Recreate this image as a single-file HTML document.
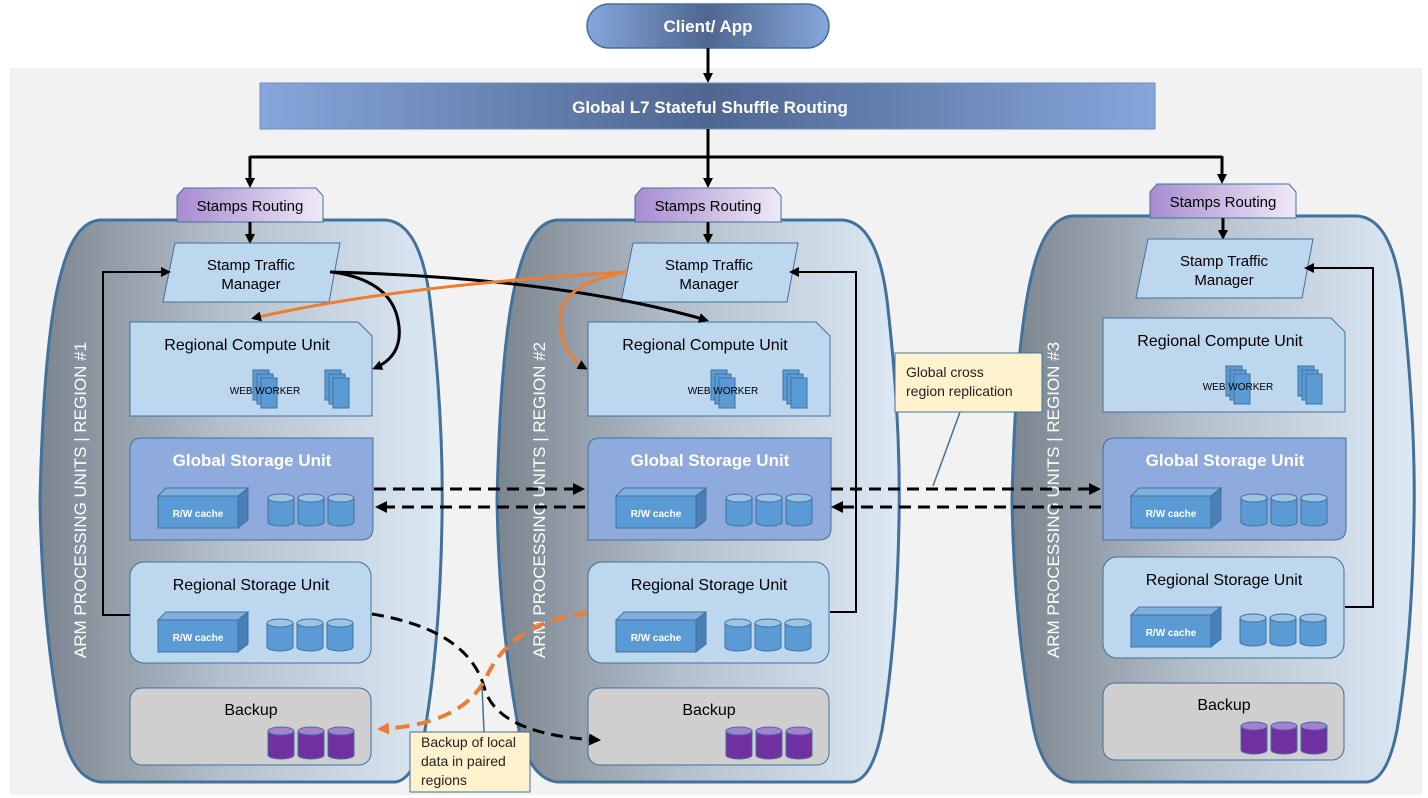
<!DOCTYPE html>
<html><head><meta charset="utf-8"><style>
html,body{margin:0;padding:0;background:#fff;}
svg{display:block;font-family:"Segoe UI","Liberation Sans",sans-serif;}
</style></head><body>
<svg width="1428" height="798" viewBox="0 0 1428 798" xmlns="http://www.w3.org/2000/svg">
<defs>
<linearGradient id="reg" x1="0" x2="1" y1="0" y2="0">
<stop offset="0" stop-color="#7b858f"/><stop offset="0.45" stop-color="#b3bfcb"/><stop offset="1" stop-color="#dce8f4"/></linearGradient>
<linearGradient id="bar" x1="0" x2="1"><stop offset="0" stop-color="#86a6da"/><stop offset="0.5" stop-color="#4f6690"/><stop offset="1" stop-color="#86a6da"/></linearGradient>
<linearGradient id="pur" x1="0" x2="1"><stop offset="0" stop-color="#a78bd0"/><stop offset="1" stop-color="#efeaf6"/></linearGradient>
<marker id="ab" markerWidth="10" markerHeight="10" refX="7" refY="5" orient="auto" markerUnits="userSpaceOnUse"><path d="M0,0 L10,5 L0,10 Z" fill="#000"/></marker>
<marker id="ao" markerWidth="12" markerHeight="12" refX="9" refY="6" orient="auto" markerUnits="userSpaceOnUse"><path d="M0,0 L12,6 L0,12 Z" fill="#ed7d31"/></marker>
<marker id="ab2" markerWidth="12" markerHeight="12" refX="9" refY="6" orient="auto" markerUnits="userSpaceOnUse"><path d="M0,0 L12,6 L0,12 Z" fill="#000"/></marker>
</defs>
<rect x="10" y="68" width="1412" height="727" fill="#f2f2f2"/>

<rect x="587" y="4" width="242" height="44" rx="22" fill="url(#bar)" stroke="#41719c" stroke-width="1.5"/>
<text x="708" y="32" font-size="17" font-weight="bold" fill="#fff" text-anchor="middle">Client/ App</text>
<line x1="708" y1="48" x2="708" y2="80" stroke="#000" stroke-width="3" marker-end="url(#ab)"/>
<rect x="260" y="83" width="895" height="46" fill="url(#bar)" stroke="#6d8fc7" stroke-width="1"/>
<text x="710" y="113" font-size="17" font-weight="bold" fill="#fff" text-anchor="middle">Global L7 Stateful Shuffle Routing</text>
<path d="M708,129 V157 M250,157 H1222" stroke="#000" stroke-width="3" fill="none"/>
<line x1="250" y1="156" x2="250" y2="185" stroke="#000" stroke-width="3" marker-end="url(#ab)"/>
<line x1="708" y1="156" x2="708" y2="185" stroke="#000" stroke-width="3" marker-end="url(#ab)"/>
<line x1="1222" y1="156" x2="1222" y2="181" stroke="#000" stroke-width="3" marker-end="url(#ab)"/>

<path d="M100,220 L385,220 Q420,222 430,300 Q444,420 442,520 Q440,640 425,730 Q415,780 395,782 L100,782 Q70,778 60,720 Q42,620 40,500 Q44,330 62,270 Q75,222 100,220 Z" fill="url(#reg)" stroke="#41719c" stroke-width="3"/>
<path d="M557,220 L842,220 Q877,222 887,300 Q901,420 899,520 Q897,640 882,730 Q872,780 852,782 L557,782 Q527,778 517,720 Q499,620 497,500 Q501,330 519,270 Q532,222 557,220 Z" fill="url(#reg)" stroke="#41719c" stroke-width="3"/>
<path d="M1072,216 L1357,216 Q1392,218 1402,296 Q1416,420 1414,520 Q1412,640 1397,730 Q1387,780 1367,782 L1072,782 Q1042,778 1032,720 Q1014,620 1012,500 Q1016,330 1034,266 Q1047,218 1072,216 Z" fill="url(#reg)" stroke="#41719c" stroke-width="3"/>

<text transform="translate(86,500) rotate(-90)" font-size="17" fill="#fff" text-anchor="middle">ARM PROCESSING UNITS | REGION #1</text>
<text transform="translate(545,500) rotate(-90)" font-size="17" fill="#fff" text-anchor="middle">ARM PROCESSING UNITS | REGION #2</text>
<text transform="translate(1059,500) rotate(-90)" font-size="17" fill="#fff" text-anchor="middle">ARM PROCESSING UNITS | REGION #3</text>

<g>
<path d="M177,196 L184,188 L316,188 L323,196 L323,222 L177,222 Z" fill="url(#pur)" stroke="#41719c"/>
<text x="250" y="211" font-size="15" text-anchor="middle">Stamps Routing</text>
<line x1="250" y1="222" x2="250" y2="241" stroke="#000" stroke-width="3" marker-end="url(#ab)"/>
<polygon points="175,243 340,243 329,302 163,302" fill="#bdd7ee" stroke="#41719c"/>
<text x="251" y="270" font-size="15" text-anchor="middle">Stamp Traffic</text>
<text x="251" y="289" font-size="15" text-anchor="middle">Manager</text>
<path d="M130,322 L358,322 L372,336 L372,416 L130,416 Z" fill="#bdd7ee" stroke="#41719c"/>
<text x="247" y="350" font-size="16" text-anchor="middle">Regional Compute Unit</text>
<g fill="#5b9bd5" stroke="#41719c"><rect x="253" y="370" width="16" height="30"/><rect x="257" y="374" width="16" height="30"/><rect x="261" y="378" width="16" height="30"/>
<rect x="325" y="370" width="16" height="30"/><rect x="329" y="374" width="16" height="30"/><rect x="333" y="378" width="16" height="30"/></g>
<text x="265" y="394" font-size="10" text-anchor="middle">WEB WORKER</text>
<path d="M142,438 L373,438 L373,528 Q373,540 361,540 L130,540 L130,450 Q130,438 142,438 Z" fill="#8faadc" stroke="#41719c"/>
<text x="252" y="466" font-size="17" font-weight="bold" fill="#fff" text-anchor="middle">Global Storage Unit</text>
<g stroke="#41719c"><polygon points="158,496 166,488 248,488 238,496" fill="#7fb0e0"/><polygon points="238,496 248,488 248,520 238,528" fill="#4a7fb8"/><rect x="158" y="496" width="80" height="32" fill="#5b9bd5"/></g>
<text x="198" y="517" font-size="10" font-weight="bold" fill="#fff" text-anchor="middle">R/W cache</text>
<g stroke="#41719c"><path d="M268,498 v24 a13,4 0 0 0 26,0 v-24 Z" fill="#5b9bd5"/><ellipse cx="281" cy="498" rx="13" ry="4" fill="#9dc3e6"/>
<path d="M298,498 v24 a13,4 0 0 0 26,0 v-24 Z" fill="#5b9bd5"/><ellipse cx="311" cy="498" rx="13" ry="4" fill="#9dc3e6"/>
<path d="M328,498 v24 a13,4 0 0 0 26,0 v-24 Z" fill="#5b9bd5"/><ellipse cx="341" cy="498" rx="13" ry="4" fill="#9dc3e6"/></g>
<rect x="130" y="562" width="241" height="101" rx="14" fill="#bdd7ee" stroke="#41719c"/>
<text x="251" y="590" font-size="16" text-anchor="middle">Regional Storage Unit</text>
<g stroke="#41719c"><polygon points="158,620 166,612 248,612 238,620" fill="#7fb0e0"/><polygon points="238,620 248,612 248,644 238,652" fill="#4a7fb8"/><rect x="158" y="620" width="80" height="32" fill="#5b9bd5"/></g>
<text x="198" y="641" font-size="10" font-weight="bold" fill="#fff" text-anchor="middle">R/W cache</text>
<g stroke="#41719c"><path d="M267,623 v24 a13,4 0 0 0 26,0 v-24 Z" fill="#5b9bd5"/><ellipse cx="280" cy="623" rx="13" ry="4" fill="#9dc3e6"/>
<path d="M297,623 v24 a13,4 0 0 0 26,0 v-24 Z" fill="#5b9bd5"/><ellipse cx="310" cy="623" rx="13" ry="4" fill="#9dc3e6"/>
<path d="M327,623 v24 a13,4 0 0 0 26,0 v-24 Z" fill="#5b9bd5"/><ellipse cx="340" cy="623" rx="13" ry="4" fill="#9dc3e6"/></g>
<rect x="130" y="688" width="241" height="77" rx="12" fill="#d0cece" stroke="#41719c"/>
<text x="251" y="715" font-size="16" text-anchor="middle">Backup</text>
<g stroke="#41719c"><path d="M268,731 v24 a13,4 0 0 0 26,0 v-24 Z" fill="#7030a0"/><ellipse cx="281" cy="731" rx="13" ry="4" fill="#a77fd0"/>
<path d="M298,731 v24 a13,4 0 0 0 26,0 v-24 Z" fill="#7030a0"/><ellipse cx="311" cy="731" rx="13" ry="4" fill="#a77fd0"/>
<path d="M328,731 v24 a13,4 0 0 0 26,0 v-24 Z" fill="#7030a0"/><ellipse cx="341" cy="731" rx="13" ry="4" fill="#a77fd0"/></g>
</g>

<g transform="translate(458,0)">
<path d="M177,196 L184,188 L316,188 L323,196 L323,222 L177,222 Z" fill="url(#pur)" stroke="#41719c"/>
<text x="250" y="211" font-size="15" text-anchor="middle">Stamps Routing</text>
<line x1="250" y1="222" x2="250" y2="241" stroke="#000" stroke-width="3" marker-end="url(#ab)"/>
<polygon points="175,243 340,243 329,302 163,302" fill="#bdd7ee" stroke="#41719c"/>
<text x="251" y="270" font-size="15" text-anchor="middle">Stamp Traffic</text>
<text x="251" y="289" font-size="15" text-anchor="middle">Manager</text>
<path d="M130,322 L358,322 L372,336 L372,416 L130,416 Z" fill="#bdd7ee" stroke="#41719c"/>
<text x="247" y="350" font-size="16" text-anchor="middle">Regional Compute Unit</text>
<g fill="#5b9bd5" stroke="#41719c"><rect x="253" y="370" width="16" height="30"/><rect x="257" y="374" width="16" height="30"/><rect x="261" y="378" width="16" height="30"/>
<rect x="325" y="370" width="16" height="30"/><rect x="329" y="374" width="16" height="30"/><rect x="333" y="378" width="16" height="30"/></g>
<text x="265" y="394" font-size="10" text-anchor="middle">WEB WORKER</text>
<path d="M142,438 L373,438 L373,528 Q373,540 361,540 L130,540 L130,450 Q130,438 142,438 Z" fill="#8faadc" stroke="#41719c"/>
<text x="252" y="466" font-size="17" font-weight="bold" fill="#fff" text-anchor="middle">Global Storage Unit</text>
<g stroke="#41719c"><polygon points="158,496 166,488 248,488 238,496" fill="#7fb0e0"/><polygon points="238,496 248,488 248,520 238,528" fill="#4a7fb8"/><rect x="158" y="496" width="80" height="32" fill="#5b9bd5"/></g>
<text x="198" y="517" font-size="10" font-weight="bold" fill="#fff" text-anchor="middle">R/W cache</text>
<g stroke="#41719c"><path d="M268,498 v24 a13,4 0 0 0 26,0 v-24 Z" fill="#5b9bd5"/><ellipse cx="281" cy="498" rx="13" ry="4" fill="#9dc3e6"/>
<path d="M298,498 v24 a13,4 0 0 0 26,0 v-24 Z" fill="#5b9bd5"/><ellipse cx="311" cy="498" rx="13" ry="4" fill="#9dc3e6"/>
<path d="M328,498 v24 a13,4 0 0 0 26,0 v-24 Z" fill="#5b9bd5"/><ellipse cx="341" cy="498" rx="13" ry="4" fill="#9dc3e6"/></g>
<rect x="130" y="562" width="241" height="101" rx="14" fill="#bdd7ee" stroke="#41719c"/>
<text x="251" y="590" font-size="16" text-anchor="middle">Regional Storage Unit</text>
<g stroke="#41719c"><polygon points="158,620 166,612 248,612 238,620" fill="#7fb0e0"/><polygon points="238,620 248,612 248,644 238,652" fill="#4a7fb8"/><rect x="158" y="620" width="80" height="32" fill="#5b9bd5"/></g>
<text x="198" y="641" font-size="10" font-weight="bold" fill="#fff" text-anchor="middle">R/W cache</text>
<g stroke="#41719c"><path d="M267,623 v24 a13,4 0 0 0 26,0 v-24 Z" fill="#5b9bd5"/><ellipse cx="280" cy="623" rx="13" ry="4" fill="#9dc3e6"/>
<path d="M297,623 v24 a13,4 0 0 0 26,0 v-24 Z" fill="#5b9bd5"/><ellipse cx="310" cy="623" rx="13" ry="4" fill="#9dc3e6"/>
<path d="M327,623 v24 a13,4 0 0 0 26,0 v-24 Z" fill="#5b9bd5"/><ellipse cx="340" cy="623" rx="13" ry="4" fill="#9dc3e6"/></g>
<rect x="130" y="688" width="241" height="77" rx="12" fill="#d0cece" stroke="#41719c"/>
<text x="251" y="715" font-size="16" text-anchor="middle">Backup</text>
<g stroke="#41719c"><path d="M268,731 v24 a13,4 0 0 0 26,0 v-24 Z" fill="#7030a0"/><ellipse cx="281" cy="731" rx="13" ry="4" fill="#a77fd0"/>
<path d="M298,731 v24 a13,4 0 0 0 26,0 v-24 Z" fill="#7030a0"/><ellipse cx="311" cy="731" rx="13" ry="4" fill="#a77fd0"/>
<path d="M328,731 v24 a13,4 0 0 0 26,0 v-24 Z" fill="#7030a0"/><ellipse cx="341" cy="731" rx="13" ry="4" fill="#a77fd0"/></g>
</g>

<g transform="translate(973,-4)">
<path d="M177,196 L184,188 L316,188 L323,196 L323,222 L177,222 Z" fill="url(#pur)" stroke="#41719c"/>
<text x="250" y="211" font-size="15" text-anchor="middle">Stamps Routing</text>
<line x1="250" y1="222" x2="250" y2="241" stroke="#000" stroke-width="3" marker-end="url(#ab)"/>
<polygon points="175,243 340,243 329,302 163,302" fill="#bdd7ee" stroke="#41719c"/>
<text x="251" y="270" font-size="15" text-anchor="middle">Stamp Traffic</text>
<text x="251" y="289" font-size="15" text-anchor="middle">Manager</text>
<path d="M130,322 L358,322 L372,336 L372,416 L130,416 Z" fill="#bdd7ee" stroke="#41719c"/>
<text x="247" y="350" font-size="16" text-anchor="middle">Regional Compute Unit</text>
<g fill="#5b9bd5" stroke="#41719c"><rect x="253" y="370" width="16" height="30"/><rect x="257" y="374" width="16" height="30"/><rect x="261" y="378" width="16" height="30"/>
<rect x="325" y="370" width="16" height="30"/><rect x="329" y="374" width="16" height="30"/><rect x="333" y="378" width="16" height="30"/></g>
<text x="265" y="394" font-size="10" text-anchor="middle">WEB WORKER</text>
<g transform="translate(0,4)">
<path d="M142,438 L373,438 L373,528 Q373,540 361,540 L130,540 L130,450 Q130,438 142,438 Z" fill="#8faadc" stroke="#41719c"/>
<text x="252" y="466" font-size="17" font-weight="bold" fill="#fff" text-anchor="middle">Global Storage Unit</text>
<g stroke="#41719c"><polygon points="158,496 166,488 248,488 238,496" fill="#7fb0e0"/><polygon points="238,496 248,488 248,520 238,528" fill="#4a7fb8"/><rect x="158" y="496" width="80" height="32" fill="#5b9bd5"/></g>
<text x="198" y="517" font-size="10" font-weight="bold" fill="#fff" text-anchor="middle">R/W cache</text>
<g stroke="#41719c"><path d="M268,498 v24 a13,4 0 0 0 26,0 v-24 Z" fill="#5b9bd5"/><ellipse cx="281" cy="498" rx="13" ry="4" fill="#9dc3e6"/>
<path d="M298,498 v24 a13,4 0 0 0 26,0 v-24 Z" fill="#5b9bd5"/><ellipse cx="311" cy="498" rx="13" ry="4" fill="#9dc3e6"/>
<path d="M328,498 v24 a13,4 0 0 0 26,0 v-24 Z" fill="#5b9bd5"/><ellipse cx="341" cy="498" rx="13" ry="4" fill="#9dc3e6"/></g>
</g>
<rect x="130" y="561" width="241" height="101" rx="14" fill="#bdd7ee" stroke="#41719c"/>
<text x="251" y="589" font-size="16" text-anchor="middle">Regional Storage Unit</text>
<g stroke="#41719c"><polygon points="158,619 166,611 248,611 238,619" fill="#7fb0e0"/><polygon points="238,619 248,611 248,643 238,651" fill="#4a7fb8"/><rect x="158" y="619" width="80" height="32" fill="#5b9bd5"/></g>
<text x="198" y="640" font-size="10" font-weight="bold" fill="#fff" text-anchor="middle">R/W cache</text>
<g stroke="#41719c"><path d="M267,622 v24 a13,4 0 0 0 26,0 v-24 Z" fill="#5b9bd5"/><ellipse cx="280" cy="622" rx="13" ry="4" fill="#9dc3e6"/>
<path d="M297,622 v24 a13,4 0 0 0 26,0 v-24 Z" fill="#5b9bd5"/><ellipse cx="310" cy="622" rx="13" ry="4" fill="#9dc3e6"/>
<path d="M327,622 v24 a13,4 0 0 0 26,0 v-24 Z" fill="#5b9bd5"/><ellipse cx="340" cy="622" rx="13" ry="4" fill="#9dc3e6"/></g>
<rect x="130" y="687" width="241" height="77" rx="12" fill="#d0cece" stroke="#41719c"/>
<text x="251" y="714" font-size="16" text-anchor="middle">Backup</text>
<g stroke="#41719c"><path d="M268,730 v24 a13,4 0 0 0 26,0 v-24 Z" fill="#7030a0"/><ellipse cx="281" cy="730" rx="13" ry="4" fill="#a77fd0"/>
<path d="M298,730 v24 a13,4 0 0 0 26,0 v-24 Z" fill="#7030a0"/><ellipse cx="311" cy="730" rx="13" ry="4" fill="#a77fd0"/>
<path d="M328,730 v24 a13,4 0 0 0 26,0 v-24 Z" fill="#7030a0"/><ellipse cx="341" cy="730" rx="13" ry="4" fill="#a77fd0"/></g>
</g>

<path d="M130,615 H103 V272 H168" fill="none" stroke="#000" stroke-width="2" marker-end="url(#ab)"/>
<path d="M830,612 H856 V272 H792" fill="none" stroke="#000" stroke-width="2" marker-end="url(#ab)"/>
<path d="M1345,607 H1373 V268 H1307" fill="none" stroke="#000" stroke-width="2" marker-end="url(#ab)"/>

<path d="M330,272 Q560,278 706,320" fill="none" stroke="#000" stroke-width="3" marker-end="url(#ab)"/>
<path d="M332,272 Q390,280 398,320 Q405,355 375,368" fill="none" stroke="#000" stroke-width="3" marker-end="url(#ab)"/>
<path d="M627,272 Q400,285 254,318" fill="none" stroke="#ed7d31" stroke-width="3" marker-end="url(#ab)"/>
<path d="M622,273 Q560,285 560,320 Q562,355 585,368" fill="none" stroke="#ed7d31" stroke-width="3" marker-end="url(#ab)"/>

<g stroke="#000" stroke-width="3" stroke-dasharray="12,7" fill="none">
<line x1="374" y1="489" x2="582" y2="489" marker-end="url(#ab2)"/>
<line x1="585" y1="507" x2="378" y2="507" marker-end="url(#ab2)"/>
<line x1="831" y1="489" x2="1098" y2="489" marker-end="url(#ab2)"/>
<line x1="1101" y1="507" x2="834" y2="507" marker-end="url(#ab2)"/>
<path d="M372,614 Q470,630 485,690 Q500,735 598,740" marker-end="url(#ab2)"/>
</g>
<path d="M587,613 Q510,622 485,680 Q460,725 380,729" fill="none" stroke="#ed7d31" stroke-width="4" stroke-dasharray="14,8" marker-end="url(#ao)"/>

<line x1="960" y1="412" x2="933" y2="486" stroke="#41719c" stroke-width="1.5"/>
<rect x="895" y="353" width="147" height="59" fill="#fff2cc" stroke="#41719c"/>
<text x="906" y="377" font-size="14" fill="#222">Global cross</text>
<text x="906" y="396" font-size="14" fill="#222">region replication</text>
<line x1="484" y1="732" x2="482" y2="686" stroke="#41719c" stroke-width="1.5"/>
<rect x="410" y="732" width="120" height="60" fill="#fff2cc" stroke="#41719c"/>
<text x="421" y="747" font-size="14" fill="#222">Backup of local</text>
<text x="421" y="766" font-size="14" fill="#222">data in paired</text>
<text x="421" y="785" font-size="14" fill="#222">regions</text>
</svg>
</body></html>
